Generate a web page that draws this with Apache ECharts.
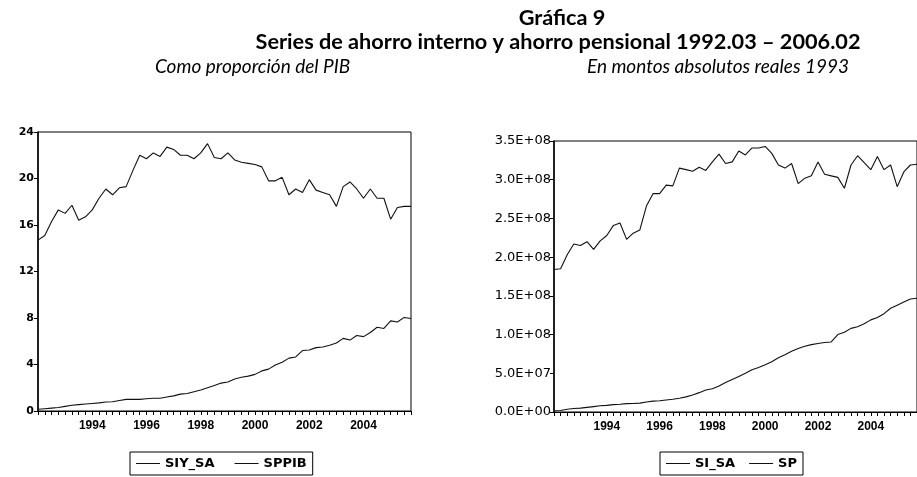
<!DOCTYPE html>
<html>
<head>
<meta charset="utf-8">
<script src="https://cdn.jsdelivr.net/npm/echarts@6/dist/echarts.min.js"></script>
<style>
html,body{margin:0;padding:0;background:#fff;}
#c{width:917px;height:477px;}
</style>
</head>
<body>
<div id="c"></div>
<script>
const quarters = [
 '1992Q3','1992Q4',
 '1993Q1','1993Q2','1993Q3','1993Q4',
 '1994Q1','1994Q2','1994Q3','1994Q4',
 '1995Q1','1995Q2','1995Q3','1995Q4',
 '1996Q1','1996Q2','1996Q3','1996Q4',
 '1997Q1','1997Q2','1997Q3','1997Q4',
 '1998Q1','1998Q2','1998Q3','1998Q4',
 '1999Q1','1999Q2','1999Q3','1999Q4',
 '2000Q1','2000Q2','2000Q3','2000Q4',
 '2001Q1','2001Q2','2001Q3','2001Q4',
 '2002Q1','2002Q2','2002Q3','2002Q4',
 '2003Q1','2003Q2','2003Q3','2003Q4',
 '2004Q1','2004Q2','2004Q3','2004Q4',
 '2005Q1','2005Q2','2005Q3','2005Q4',
 '2006Q1','2006Q2'
];
const xTickYears = ['1994','1996','1998','2000','2002','2004'];

// Left panel: as % of GDP
const siySA = [14.7,15.1,16.3,17.3,17.0,17.7,16.4,16.7,17.3,18.3,
               19.1,18.6,19.2,19.3,20.7,22.0,21.7,22.2,21.9,22.7,
               22.5,22.0,22.0,21.7,22.2,23.0,21.8,21.7,22.2,21.6,
               21.4,21.3,21.2,21.0,19.8,19.8,20.1,18.6,19.1,18.8,
               19.9,19.0,18.8,18.6,17.6,19.3,19.7,19.1,18.3,19.1,
               18.3,18.3,16.5,17.5,17.6,17.6];
const sppib = [0.15,0.2,0.25,0.3,0.4,0.5,0.55,0.6,0.65,0.7,
               0.78,0.8,0.9,1.0,1.0,1.0,1.05,1.1,1.1,1.2,
               1.3,1.45,1.5,1.65,1.8,2.0,2.2,2.4,2.5,2.75,
               2.9,3.0,3.15,3.45,3.6,3.95,4.2,4.55,4.65,5.2,
               5.25,5.45,5.5,5.65,5.85,6.25,6.1,6.5,6.4,6.75,
               7.2,7.1,7.75,7.65,8.05,7.95];

// Right panel: absolute real amounts (1993)
const siSA = [1.84e8,1.85e8,2.03e8,2.17e8,2.15e8,2.20e8,2.10e8,2.21e8,2.28e8,2.41e8,
              2.44e8,2.23e8,2.31e8,2.35e8,2.66e8,2.82e8,2.82e8,2.93e8,2.92e8,3.15e8,
              3.13e8,3.11e8,3.16e8,3.12e8,3.23e8,3.33e8,3.21e8,3.23e8,3.37e8,3.32e8,
              3.41e8,3.41e8,3.43e8,3.34e8,3.19e8,3.15e8,3.21e8,2.95e8,3.02e8,3.05e8,
              3.23e8,3.07e8,3.05e8,3.03e8,2.89e8,3.19e8,3.31e8,3.22e8,3.13e8,3.30e8,
              3.13e8,3.19e8,2.91e8,3.10e8,3.19e8,3.20e8];
const sp = [0.017e8,0.02e8,0.035e8,0.045e8,0.05e8,0.06e8,0.07e8,0.08e8,0.085e8,0.095e8,
            0.10e8,0.108e8,0.11e8,0.115e8,0.13e8,0.14e8,0.145e8,0.155e8,0.165e8,0.177e8,
            0.195e8,0.22e8,0.25e8,0.285e8,0.30e8,0.335e8,0.38e8,0.42e8,0.46e8,0.50e8,
            0.545e8,0.575e8,0.61e8,0.65e8,0.70e8,0.74e8,0.785e8,0.82e8,0.85e8,0.87e8,
            0.884e8,0.897e8,0.905e8,1.0e8,1.03e8,1.08e8,1.10e8,1.14e8,1.19e8,1.22e8,
            1.27e8,1.34e8,1.38e8,1.42e8,1.46e8,1.47e8];

const chart = echarts.init(document.getElementById('c'), null, {renderer:'canvas'});
const AX = 'Liberation Sans, Arial, sans-serif';
const DV = 'DejaVu Sans, sans-serif';
const TF = 'Lato, "Open Sans", sans-serif';
const black = '#000';

function xAxisFor(gi){
  return {
    type:'category', gridIndex:gi, data:quarters, boundaryGap:false,
    axisLine:{show:true, lineStyle:{color:black, width:1}},
    axisTick:{show:true, interval:0, length:4, lineStyle:{color:black}},
    axisLabel:{
      interval:(idx, val)=> xTickYears.includes(val.slice(0,4)) && val.slice(4)==='Q3',
      formatter:(v)=>v.slice(0,4),
      color:black, fontFamily:AX, fontWeight:'bold', fontSize:12, margin:9
    },
    splitLine:{show:false}
  };
}
function expFmt(v){
  const s = v.toExponential(1);
  const [m,e] = s.split('e');
  const sign = e[0]==='-' ? '-' : '+';
  let d = e.replace(/^[+-]/,'');
  if (d.length<2) d = '0'+d;
  return m + 'E' + sign + d;
}

const lineStyle = {color:'#111', width:1.1};
const legendText = {color:black, fontFamily:DV, fontWeight:'bold', fontSize:13};

chart.setOption({
  animation:false,
  backgroundColor:'#fff',
  graphic:[
    {type:'text', x:562, y:7, style:{text:'Gráfica 9', font:'bold 21.7px ' + TF, fill:black, align:'center', textAlign:'center'}},
    {type:'text', x:558, y:31, style:{text:'Series de ahorro interno y ahorro pensional 1992.03 – 2006.02', font:'bold 21.7px ' + TF, fill:black, align:'center', textAlign:'center'}},
    {type:'text', x:155, y:57, style:{text:'Como proporción del PIB', font:'italic 19px ' + TF, fill:black}},
    {type:'text', x:718, y:57, style:{text:'En montos absolutos reales 1993', font:'italic 19px ' + TF, fill:black, align:'center', textAlign:'center'}}
  ],
  grid:[
    {left:38, top:132, width:373, height:279, show:true, borderColor:black, borderWidth:1, backgroundColor:'transparent'},
    {left:554, top:141, width:365, height:271, show:true, borderColor:black, borderWidth:1, backgroundColor:'transparent'}
  ],
  xAxis:[xAxisFor(0), xAxisFor(1)],
  yAxis:[
    {type:'value', gridIndex:0, min:0, max:24, interval:4,
     axisLine:{show:true, lineStyle:{color:black, width:1.5}},
     axisTick:{show:true, length:4, lineStyle:{color:black}},
     axisLabel:{color:black, fontFamily:DV, fontWeight:'bold', fontSize:11, margin:4},
     splitLine:{show:false}},
    {type:'value', gridIndex:1, min:0, max:3.5e8, interval:5e7,
     axisLine:{show:true, lineStyle:{color:black, width:1.5}},
     axisTick:{show:true, length:4, lineStyle:{color:black}},
     axisLabel:{color:black, fontFamily:DV, fontSize:13, margin:3, formatter:expFmt},
     splitLine:{show:false}}
  ],
  legend:[
    {left:130, top:452, data:['SIY_SA','SPPIB'], icon:'rect', itemWidth:24, itemHeight:1,
     itemGap:20, padding:[5,6], borderColor:black, borderWidth:1, textStyle:legendText},
    {left:660, top:452, data:['SI_SA','SP'], icon:'rect', itemWidth:24, itemHeight:1,
     itemGap:14, padding:[5,6], borderColor:black, borderWidth:1, textStyle:legendText}
  ],
  series:[
    {name:'SIY_SA', type:'line', xAxisIndex:0, yAxisIndex:0, data:siySA, symbol:'none', lineStyle:lineStyle, itemStyle:{color:'#111'}},
    {name:'SPPIB', type:'line', xAxisIndex:0, yAxisIndex:0, data:sppib, symbol:'none', lineStyle:lineStyle, itemStyle:{color:'#111'}},
    {name:'SI_SA', type:'line', xAxisIndex:1, yAxisIndex:1, data:siSA, symbol:'none', lineStyle:lineStyle, itemStyle:{color:'#111'}},
    {name:'SP', type:'line', xAxisIndex:1, yAxisIndex:1, data:sp, symbol:'none', lineStyle:lineStyle, itemStyle:{color:'#111'}}
  ]
});
</script>
</body>
</html>
